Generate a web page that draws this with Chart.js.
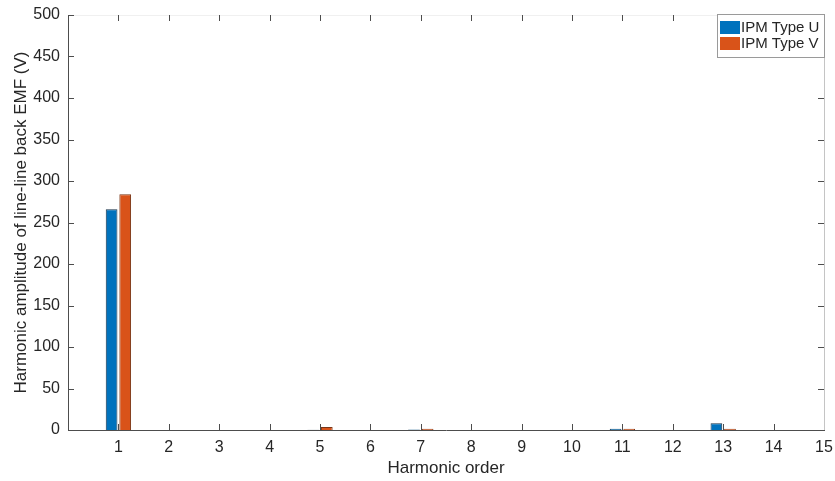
<!DOCTYPE html>
<html>
<head>
<meta charset="utf-8">
<script src="https://cdn.jsdelivr.net/npm/chart.js@4.4.1/dist/chart.umd.min.js"></script>
<style>
  html, body { margin: 0; padding: 0; background: #fff; }
  #wrap { width: 835px; height: 481px; }
</style>
</head>
<body>
<div id="wrap"><canvas id="harm"></canvas></div>
<script>
// harmonic orders on the axis (0 and 15 are just the ends)
const harmonics = ['0','1','2','3','4','5','6','7','8','9','10','11','12','13','14','15'];
const typeU = [0, 266, 0, 0, 0, 0.3, 0, 0.6, 0, 0, 0, 1.5, 0, 8, 0, 0];
const typeV = [0, 284, 0, 0, 0, 3.5, 0, 1.5, 0, 0, 0, 1.5, 0, 1.5, 0, 0];
const yTicks = [0, 50, 100, 150, 200, 250, 300, 350, 400, 450, 500];

const txt = '#262626';
const fontFam = 'Arial, "Liberation Sans", Helvetica, sans-serif';

// matlab style box: inward ticks, light top/right edges, legend inside
const boxPlugin = {
    id: 'matlabBox',
    afterDraw(chart) {
        const ctx = chart.ctx;
        const a = chart.chartArea;
        const xs = chart.scales.x, ys = chart.scales.y;
        ctx.save();
        ctx.lineWidth = 1;
        // right and top edges
        ctx.strokeStyle = '#c4c4c4';
        ctx.beginPath();
        ctx.moveTo(Math.round(a.right) + 0.5, a.bottom);
        ctx.lineTo(Math.round(a.right) + 0.5, a.top);
        ctx.stroke();
        ctx.strokeStyle = '#f0f0f0';
        ctx.beginPath();
        ctx.moveTo(a.left, Math.round(a.top) + 0.5);
        ctx.lineTo(a.right, Math.round(a.top) + 0.5);
        ctx.stroke();
        // ticks
        ctx.strokeStyle = '#4d4d4d';
        ctx.beginPath();
        for (let i = 1; i < harmonics.length - 1; i++) {
            const px = Math.round(xs.getPixelForValue(i)) + 0.5;
            ctx.moveTo(px, a.bottom); ctx.lineTo(px, a.bottom - 6);
            ctx.moveTo(px, a.top); ctx.lineTo(px, a.top + 6);
        }
        yTicks.forEach(v => {
            const py = Math.round(ys.getPixelForValue(v)) + 0.5;
            ctx.moveTo(a.left, py); ctx.lineTo(a.left + 6, py);
            ctx.moveTo(a.right, py); ctx.lineTo(a.right - 6, py);
        });
        ctx.stroke();

        // legend
        const lx = 717, ly = 14, lw = 107, lh = 43;
        ctx.fillStyle = '#fff';
        ctx.fillRect(lx, ly, lw, lh);
        ctx.strokeStyle = '#9a9a9a';
        ctx.strokeRect(lx + 0.5, ly + 0.5, lw, lh);
        ctx.font = '15px ' + fontFam;
        ctx.textBaseline = 'middle';
        chart.data.datasets.forEach((ds, i) => {
            const ry = ly + 7 + i * 16;
            ctx.fillStyle = ds.backgroundColor;
            ctx.fillRect(lx + 3, ry, 20, 13);
            ctx.fillStyle = txt;
            ctx.fillText(ds.label, lx + 24, ry + 7);
        });
        ctx.restore();
    }
};

new Chart(document.getElementById('harm'), {
    type: 'bar',
    data: {
        labels: harmonics,
        datasets: [
            { label: 'IPM Type U', data: typeU, backgroundColor: '#0072BD', borderColor: '#17324a', borderWidth: 1 },
            { label: 'IPM Type V', data: typeV, backgroundColor: '#D95319', borderColor: '#7a3515', borderWidth: 1 }
        ]
    },
    options: {
        responsive: true,
        maintainAspectRatio: false,
        animation: false,
        layout: { padding: { left: 0, right: 11, top: 15, bottom: 0 } },
        datasets: { bar: { categoryPercentage: 0.54, barPercentage: 0.86 } },
        plugins: { legend: { display: false }, tooltip: { enabled: false } },
        scales: {
            x: {
                offset: false,
                grid: { display: false, drawTicks: false },
                border: { display: true, color: '#4d4d4d', width: 1 },
                ticks: {
                    color: txt, padding: 8, maxRotation: 0, autoSkip: false,
                    font: { family: fontFam, size: 16 },
                    callback: (v, i) => i === 0 ? '' : harmonics[i]
                },
                title: {
                    display: true, text: 'Harmonic order', color: txt,
                    font: { family: fontFam, size: 17 }, padding: { top: 2, bottom: 2 }
                },
                afterFit: (s) => { s.height = 51; s.paddingLeft = 0; s.paddingRight = 0; }
            },
            y: {
                min: 0, max: 500,
                grid: { display: false, drawTicks: false },
                border: { display: true, color: '#4d4d4d', width: 1 },
                ticks: {
                    stepSize: 50, color: txt, padding: 8,
                    font: { family: fontFam, size: 16 }
                },
                title: {
                    display: true, text: 'Harmonic amplitude of line-line back EMF (V)', color: txt,
                    font: { family: fontFam, size: 17 }, padding: { top: 11, bottom: 0 }
                },
                afterFit: (s) => { s.width = 68; s.paddingTop = 0; s.paddingBottom = 0; }
            }
        }
    },
    plugins: [boxPlugin]
});
</script>
</body>
</html>
